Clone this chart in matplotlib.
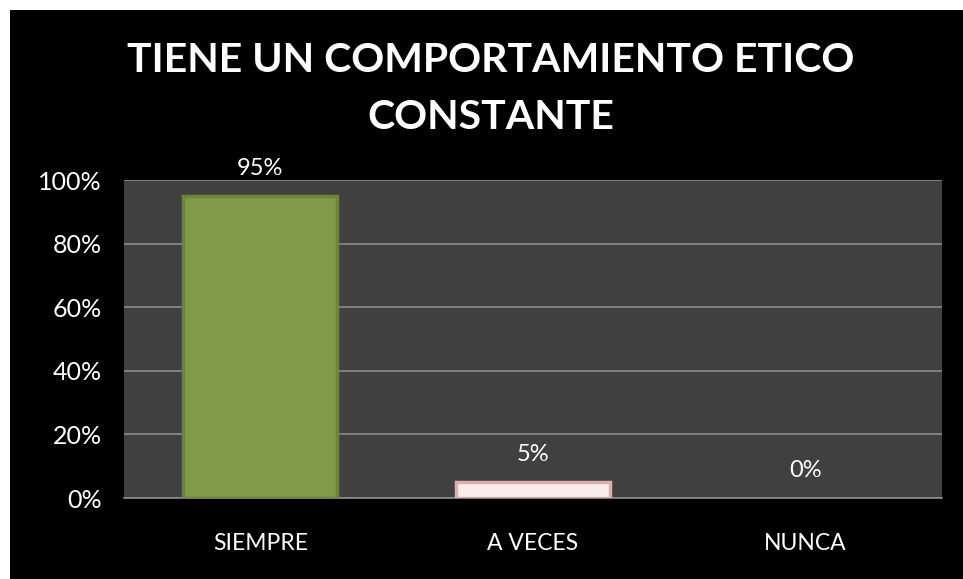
import matplotlib.pyplot as plt
from matplotlib.patches import Rectangle
from matplotlib.ticker import PercentFormatter

# Data
categories = ['SIEMPRE', 'A VECES', 'NUNCA']
values = [95, 5, 0]
labels = ['95%', '5%', '0%']
bar_faces = ['#7F9B47', '#FBECEC', '#7F9B47']
bar_edges = ['#6C8539', '#DDAEAE', '#6C8539']

plt.rcParams['font.family'] = ['Lato', 'DejaVu Sans']

fig = plt.figure(figsize=(9.63, 5.79), dpi=100)
fig.patch.set_facecolor('white')
# black slide background (thin white margin top/left)
fig.patches.append(Rectangle((10 / 963, 0), 1, 1 - 10 / 579, transform=fig.transFigure,
                             facecolor='black', edgecolor='none', zorder=-5))

ax = fig.add_axes([124 / 963, 81 / 579, 818 / 963, 318 / 579])
ax.set_facecolor('#404040')

x = range(len(categories))
bars = ax.bar(x, values, width=0.565, color=bar_faces, edgecolor=bar_edges,
              linewidth=2.5, zorder=3)
for b, v in zip(bars, values):
    if v == 0:
        b.set_visible(False)

# value labels above bars
for i, v in enumerate(values):
    ax.annotate(labels[i], (i, v), xytext=(0, 12), textcoords='offset points',
                ha='center', va='bottom', color='white', fontsize=17)

ax.set_xlim(-0.5, 2.5)
ax.set_ylim(0, 100)
ax.set_yticks([0, 20, 40, 60, 80, 100])
ax.yaxis.set_major_formatter(PercentFormatter(decimals=0))
ax.set_xticks(list(x))
ax.set_xticklabels(categories)
ax.grid(axis='y', color='#8C8C8C', linewidth=1.2, zorder=1)
ax.set_axisbelow(True)
for side in ['left', 'right', 'top']:
    ax.spines[side].set_visible(False)
ax.spines['bottom'].set_color('#8C8C8C')
ax.spines['bottom'].set_linewidth(1.2)
ax.tick_params(axis='y', length=0, pad=16, labelsize=18, labelcolor='white')
ax.tick_params(axis='x', length=0, pad=25, labelsize=16.5, labelcolor='white')

fig.text(0.51, 1 - 60 / 579, 'TIENE UN COMPORTAMIENTO ETICO', ha='center', va='center',
         color='white', fontsize=29.5, fontweight='bold')
fig.text(0.51, 1 - 117 / 579, 'CONSTANTE', ha='center', va='center',
         color='white', fontsize=29.5, fontweight='bold')

fig.savefig('out.png', dpi=100, facecolor=fig.get_facecolor())
